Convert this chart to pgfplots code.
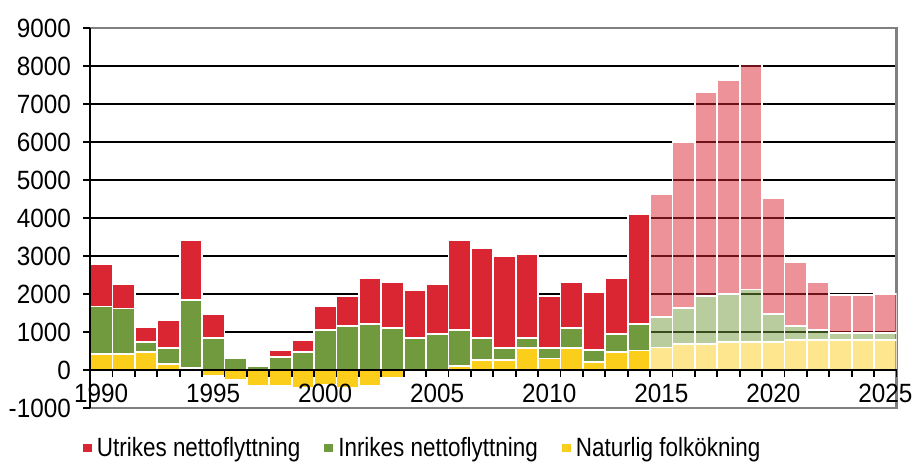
\documentclass[border=0pt]{standalone}
\usepackage{pgfplots}
\pgfplotsset{compat=1.18}
\usepackage{pgfplotstable}
\usepackage{fontspec}
\setmainfont{Liberation Sans}
\newfontfamily\tickfont{Liberation Sans}[FakeStretch=0.92]
\newfontfamily\legfont{Liberation Sans}[FakeStretch=0.85]
\definecolor{cred}{RGB}{218,37,50}
\definecolor{cgreen}{RGB}{113,153,61}
\definecolor{cyellow}{RGB}{251,206,28}

% year, naturlig folkokning, inrikes nettoflyttning, utrikes nettoflyttning
\pgfplotstableread{
year nat inr utr
1990 415 1255 1120
1991 415 1205 635
1992 475 260 405
1993 150 420 735
1994 60 1780 1585
1995 -160 835 640
1996 -270 305 0
1997 -420 95 0
1998 -430 350 175
1999 -480 465 325
2000 -380 1050 630
2001 -480 1150 790
2002 -430 1200 1210
2003 -220 1105 1200
2004 0 835 1260
2005 0 940 1315
2006 100 950 2360
2007 255 580 2365
2008 255 325 2420
2009 580 260 2205
2010 305 275 1360
2011 570 545 1210
2012 215 305 1530
2013 475 470 1475
2014 515 695 2895
}\hist

\pgfplotstableread{
year nat inr utr
2015 590 795 3245
2016 685 955 4360
2017 685 1270 5360
2018 735 1275 5620
2019 735 1385 5925
2020 735 745 3045
2021 790 370 1680
2022 790 255 1280
2023 790 185 1000
2024 790 185 1000
2025 790 185 1015
}\prog

\pgfplotsset{
  base/.style={scale only axis, width=806.5bp, height=380bp,
    at={(90bp,54bp)}, anchor=south west,
    xmin=1989.5, xmax=2025.5, ymin=-1000, ymax=9000},
  barstyle/.style={draw=white, line width=1.8bp},
}

\begin{document}
\begin{tikzpicture}
% layer 1: grid, frame and history bars
\begin{axis}[base, ybar stacked, bar width=22.4bp, clip=false,
  axis line style={draw=none}, xtick=\empty,
  ytick={-1000,0,...,9000}, yticklabels={}, major tick length=0pt,
  ymajorgrids, grid style={black, line width=1.3bp}]
  \draw[color={rgb,255:red,128;green,128;blue,128}, line width=2.2bp] (rel axis cs:0,0) rectangle (rel axis cs:1,1);
  \addplot[barstyle, fill=cyellow] table[x=year, y=nat]{\hist};
  \addplot[barstyle, fill=cgreen] table[x=year, y=inr]{\hist};
  \addplot[barstyle, fill=cred] table[x=year, y=utr]{\hist};
\end{axis}
% layer 2: forecast bars
\begin{axis}[base, ybar stacked, bar width=22.4bp, hide axis]
  \addplot[barstyle, fill=cyellow, fill opacity=0.5] table[x=year, y=nat]{\prog};
  \addplot[barstyle, fill=cgreen, fill opacity=0.5] table[x=year, y=inr]{\prog};
  \addplot[barstyle, fill=cred, fill opacity=0.5] table[x=year, y=utr]{\prog};
\end{axis}
% layer 3: axis lines, ticks, labels, legend
\begin{axis}[base,
  axis x line=middle, axis y line=left,
  axis line style={-, black, line width=2bp},
  hide obscured x ticks=false, hide obscured y ticks=false,
  xtick={1989.5,1990.5,...,2025.5}, xticklabels={},
  extra x ticks={1990,1995,2000,2005,2010,2015,2020,2025},
  extra x tick labels={1990,1995,2000,2005,2010,2015,2020,2025},
  extra x tick style={major tick length=0pt},
  ytick={-1000,0,...,9000},
  major tick length=7bp, tick align=outside,
  xtick align=outside,
  every tick/.style={black, line width=1.8bp},
  /pgf/number format/1000 sep={},
  /pgf/number format/assume math mode=true,
  tick label style={font=\tickfont\fontsize{26.5}{30}\selectfont, inner sep=0pt},
  yticklabel style={anchor=east, xshift=-12bp},
  xticklabel style={anchor=north, yshift=-14bp},
  legend columns=3,
  legend image code/.code={\fill (0bp,-5bp) rectangle (9bp,3bp);},
  legend style={at={(axis description cs:-0.0087,-0.1305)}, anchor=south west,
    draw=none, fill=none, inner sep=0pt, outer sep=0pt,
    font=\legfont\fontsize{26.5}{30}\selectfont,
    nodes={inner sep=0pt},
    /tikz/every even column/.append style={column sep=24bp},
    /tikz/every odd column/.append style={column sep=5bp}},
  legend cell align=left]
  \addlegendimage{fill=cred, draw=none}
  \addlegendentry{Utrikes nettoflyttning}
  \addlegendimage{fill=cgreen, draw=none}
  \addlegendentry{Inrikes nettoflyttning}
  \addlegendimage{fill=cyellow, draw=none}
  \addlegendentry{Naturlig folkökning}
\end{axis}
\pgfresetboundingbox
\path[use as bounding box] (0,0) rectangle (913bp,462bp);
\end{tikzpicture}
\end{document}
